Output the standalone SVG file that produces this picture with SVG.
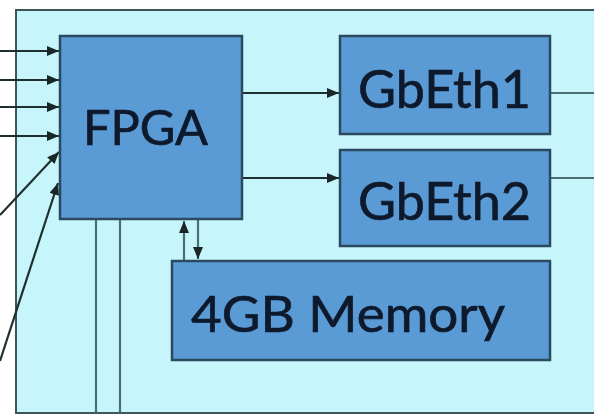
<svg xmlns="http://www.w3.org/2000/svg" width="594" height="415" viewBox="0 0 594 415">
<style>
.box{fill:#5b9bd5;stroke:#2b4a60;stroke-width:2.5}
.lbl{font-family:Lato,"Open Sans","Liberation Sans",sans-serif;fill:#0e1a2c;stroke:#0e1a2c;stroke-width:0.7}
.c{stroke:#1f2f30;stroke-width:2.2;fill:none}
.v{stroke:#4a6e72;stroke-width:2.2;fill:none}
</style>
<defs>
<marker id="ah" viewBox="0 0 12 10" markerWidth="12" markerHeight="10" refX="12" refY="5" orient="auto" markerUnits="userSpaceOnUse">
<path d="M0,0 L12,5 L0,10 z" fill="#1a2628"/>
</marker>
</defs>
<rect x="0" y="0" width="594" height="415" fill="#ffffff"/>
<rect id="board" x="16" y="10" width="590" height="403" fill="#c6f6fb" stroke="#3c5658" stroke-width="2"/>
<g id="connectors">
<line class="c" x1="0" y1="51" x2="59" y2="51" marker-end="url(#ah)"/>
<line class="c" x1="0" y1="80" x2="59" y2="80" marker-end="url(#ah)"/>
<line class="c" x1="0" y1="107" x2="59" y2="107" marker-end="url(#ah)"/>
<line class="c" x1="0" y1="136" x2="59" y2="136" marker-end="url(#ah)"/>
<line class="c" x1="0" y1="215" x2="59" y2="152" marker-end="url(#ah)"/>
<line class="c" x1="0" y1="361" x2="58" y2="183" marker-end="url(#ah)"/>
<line class="v" x1="96" y1="219" x2="96" y2="413"/>
<line class="v" x1="120" y1="219" x2="120" y2="413"/>
<line class="c" x1="242" y1="93" x2="339" y2="93" marker-end="url(#ah)"/>
<line class="c" x1="242" y1="178" x2="339" y2="178" marker-end="url(#ah)"/>
<line class="v" x1="550" y1="93" x2="594" y2="93"/>
<line class="v" x1="550" y1="178" x2="594" y2="178"/>
<line class="v" x1="184" y1="261" x2="184" y2="221" marker-end="url(#ah)"/>
<line class="v" x1="198" y1="220" x2="198" y2="259" marker-end="url(#ah)"/>
</g>
<g id="fpga">
<rect class="box" x="60" y="36" width="182" height="183"/>
<text class="lbl" x="83" y="145" font-size="48" textLength="125" lengthAdjust="spacingAndGlyphs">FPGA</text>
</g>
<g id="gbeth1">
<rect class="box" x="340" y="36" width="210" height="98"/>
<text class="lbl" x="358" y="108" font-size="53" textLength="173" lengthAdjust="spacingAndGlyphs">GbEth1</text>
</g>
<g id="gbeth2">
<rect class="box" x="340" y="150" width="210" height="96"/>
<text class="lbl" x="358" y="220" font-size="53" textLength="173" lengthAdjust="spacingAndGlyphs">GbEth2</text>
</g>
<g id="memory">
<rect class="box" x="172" y="261" width="378" height="99"/>
<text class="lbl" x="191" y="332" font-size="51" textLength="314" lengthAdjust="spacingAndGlyphs">4GB Memory</text>
</g>
</svg>
